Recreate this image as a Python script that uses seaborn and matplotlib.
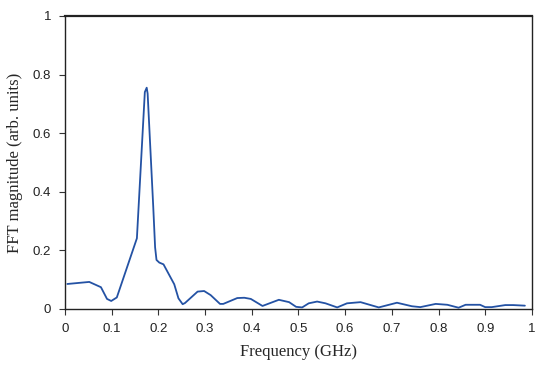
import matplotlib
matplotlib.use("Agg")
import matplotlib.pyplot as plt
import seaborn as sns
import pandas as pd

freq_ghz = [0.005, 0.052, 0.077, 0.090, 0.099, 0.111, 0.154, 0.171, 0.175, 0.177,
            0.189, 0.193, 0.196, 0.202, 0.211, 0.234, 0.243, 0.252, 0.257, 0.284,
            0.298, 0.312, 0.332, 0.339, 0.369, 0.384, 0.398, 0.423, 0.458, 0.480,
            0.495, 0.508, 0.522, 0.540, 0.558, 0.583, 0.604, 0.633, 0.672, 0.711,
            0.743, 0.761, 0.794, 0.819, 0.843, 0.858, 0.889, 0.900, 0.914, 0.943,
            0.960, 0.985]
fft_mag = [0.085, 0.092, 0.074, 0.034, 0.027, 0.039, 0.241, 0.740, 0.755, 0.735,
           0.349, 0.210, 0.167, 0.158, 0.152, 0.084, 0.036, 0.016, 0.020, 0.059,
           0.061, 0.047, 0.017, 0.017, 0.037, 0.038, 0.034, 0.010, 0.031, 0.023,
           0.007, 0.005, 0.019, 0.025, 0.019, 0.005, 0.019, 0.023, 0.005, 0.021,
           0.009, 0.006, 0.017, 0.014, 0.004, 0.014, 0.014, 0.006, 0.006, 0.013,
           0.013, 0.011]
x_ticks = [0, 0.1, 0.2, 0.3, 0.4, 0.5, 0.6, 0.7, 0.8, 0.9, 1]
x_tick_labels = ["0", "0.1", "0.2", "0.3", "0.4", "0.5", "0.6", "0.7", "0.8", "0.9", "1"]
y_ticks = [0, 0.2, 0.4, 0.6, 0.8, 1]
y_tick_labels = ["0", "0.2", "0.4", "0.6", "0.8", "1"]

df = pd.DataFrame({"freq": freq_ghz, "mag": fft_mag})

sns.set_style("ticks")
fig = plt.figure(figsize=(5.48, 3.79), dpi=100)
ax = fig.add_axes([0.1186, 0.185, 0.852, 0.773])
sns.lineplot(data=df, x="freq", y="mag", ax=ax, color="#2452a4", linewidth=1.3, sort=False)

ax.set_xlim(0, 1)
ax.set_ylim(0, 1)
ax.set_xticks(x_ticks)
ax.set_xticklabels(x_tick_labels, family="Liberation Sans", fontsize=9.5, color="#222222")
ax.set_yticks(y_ticks)
ax.set_yticklabels(y_tick_labels, family="Liberation Sans", fontsize=9.5, color="#222222")
ax.tick_params(direction="out", length=4, width=0.8, color="#333333", pad=6)
ax.set_xlabel("Frequency (GHz)", family="Liberation Serif", fontsize=12, labelpad=7)
ax.set_ylabel("FFT magnitude (arb. units)", family="Liberation Serif", fontsize=12, labelpad=7)
for side in ["left", "right", "top", "bottom"]:
    ax.spines[side].set_visible(True)
    ax.spines[side].set_color("#222222")
    ax.spines[side].set_linewidth(1.0)
ax.spines["top"].set_linewidth(1.6)

fig.savefig("out.png", dpi=100)
